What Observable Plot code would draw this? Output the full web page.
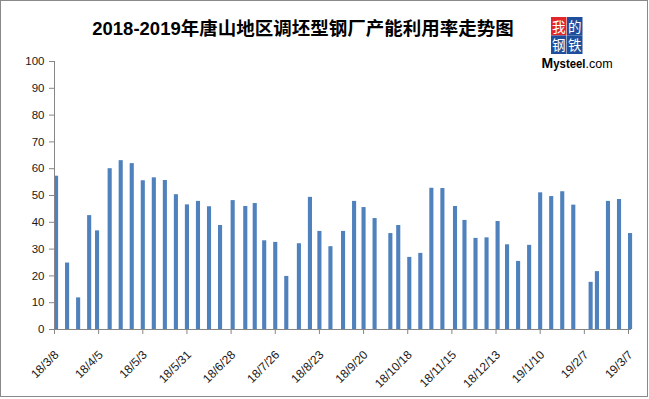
<!DOCTYPE html>
<html><head><meta charset="utf-8">
<script src="https://cdn.jsdelivr.net/npm/d3@7"></script>
<script src="https://cdn.jsdelivr.net/npm/@observablehq/plot@0.6"></script>
<style>
body{margin:0;background:#fff;}
#wrap{position:relative;width:649px;height:399px;overflow:hidden;background:#fff;}
#wrap > svg{position:absolute;left:0;top:0;}
#border{position:absolute;left:0;top:0;width:648px;height:397px;border:1px solid #898989;box-sizing:border-box;pointer-events:none}
</style>
</head><body>
<div id="wrap"><div id="border"></div></div>
<script>
const titleText = "2018-2019年唐山地区调坯型钢厂产能利用率走势图";
const dates = ["2018-03-08","2018-03-15","2018-03-22","2018-03-29","2018-04-03","2018-04-11","2018-04-18","2018-04-25","2018-05-02","2018-05-09","2018-05-16","2018-05-23","2018-05-30","2018-06-06","2018-06-13","2018-06-20","2018-06-28","2018-07-06","2018-07-12","2018-07-18","2018-07-25","2018-08-01","2018-08-09","2018-08-16","2018-08-22","2018-08-29","2018-09-06","2018-09-13","2018-09-19","2018-09-26","2018-10-06","2018-10-11","2018-10-18","2018-10-25","2018-11-01","2018-11-08","2018-11-16","2018-11-22","2018-11-29","2018-12-06","2018-12-13","2018-12-19","2018-12-26","2019-01-02","2019-01-09","2019-01-16","2019-01-23","2019-01-30","2019-02-10","2019-02-14","2019-02-21","2019-02-28","2019-03-07"];
const values = [57.2,24.8,11.8,42.5,36.8,60.0,63.0,61.9,55.5,56.6,55.6,50.3,46.5,47.8,45.8,38.8,48.1,45.9,47.0,33.1,32.5,19.8,32.0,49.3,36.6,30.9,36.6,47.8,45.5,41.4,35.8,38.8,26.9,28.4,52.7,52.6,45.9,40.7,34.0,34.2,40.3,31.6,25.4,31.4,51.0,49.6,51.4,46.4,17.6,21.6,47.8,48.5,35.8];
const tickDates = ["2018-03-08","2018-04-05","2018-05-03","2018-05-31","2018-06-28","2018-07-26","2018-08-23","2018-09-20","2018-10-18","2018-11-15","2018-12-13","2019-01-10","2019-02-07","2019-03-07"];
const tickLabels = ["18/3/8","18/4/5","18/5/3","18/5/31","18/6/28","18/7/26","18/8/23","18/9/20","18/10/18","18/11/15","18/12/13","19/1/10","19/2/7","19/3/7"];
const yTicks = [0,10,20,30,40,50,60,70,80,90,100];
const logoChars = ["我","的","钢","铁"];

const DAY = 864e5;
const data = dates.map((d,i)=>({date:new Date(d), value:values[i]}));
const ticks = tickDates.map((d,i)=>({date:new Date(d), label:tickLabels[i]}));
const x0 = new Date("2018-03-08"), x1 = new Date("2019-03-07");
const axisColor = "#868686";
const textColor = "#1a1a1a";

const chart = Plot.plot({
  width:649, height:399,
  marginLeft:54, marginRight:21, marginTop:61, marginBottom:70,
  style:{fontFamily:"'Liberation Sans', Arial, sans-serif", fontSize:"11.5px", color:textColor, background:"transparent"},
  x:{type:"utc", domain:[x0,x1], axis:null},
  y:{type:"linear", domain:[0,100], axis:null},
  marks:[
    Plot.rect(data, {x1:"date", x2:d=>new Date(+d.date + 2.6*DAY), y1:0, y2:"value", fill:"#4F81BD"}),
    Plot.ruleX([x0], {y1:0, y2:100, stroke:axisColor}),
    Plot.ruleY([0], {x1:x0, x2:new Date(+x1 + 2*DAY), stroke:axisColor}),
    Plot.axisY(yTicks, {tickSize:5, tickPadding:5, stroke:axisColor, fill:textColor, label:null, fontSize:11.5}),
    Plot.ruleX(ticks, {x:"date", y1:0, y2:0, insetBottom:-5, stroke:axisColor}),
    Plot.text(ticks, {x:"date", y:0, text:"label", rotate:-45, textAnchor:"end", lineAnchor:"bottom", dx:5, dy:26, fill:textColor, fontSize:12})
  ]
});
document.getElementById("wrap").appendChild(chart);

// Title and logo overlay
const ns = "http://www.w3.org/2000/svg";
const ov = document.createElementNS(ns, "svg");
ov.setAttribute("width", 649); ov.setAttribute("height", 399);
ov.style.position = "absolute"; ov.style.left = "0"; ov.style.top = "0";
function el(tag, attrs, txt){ const e = document.createElementNS(ns, tag); for (const k in attrs) e.setAttribute(k, attrs[k]); if (txt!=null) e.textContent = txt; ov.appendChild(e); return e; }
el("text", {x:303, y:35, "text-anchor":"middle", "font-family":"'Liberation Sans','Noto Sans CJK SC',sans-serif", "font-weight":"bold", "font-size":"18.5px", fill:"#000"}, titleText);
const cells = [[551,17,"#e3262c"],[567,17,"#1f4f9c"],[551,35.5,"#1f4f9c"],[567,35.5,"#1f4f9c"]];
cells.forEach((c,i)=>{
  el("rect", {x:c[0], y:c[1], width:15.5, height:18.5, fill:c[2]});
  el("text", {x:c[0]+7.75, y:c[1]+14.5, "text-anchor":"middle", "font-family":"'Noto Sans CJK SC',sans-serif", "font-size":"13.5px", fill:"#fff"}, logoChars[i]);
});
el("text", {x:541.5, y:68, "font-family":"'Liberation Sans',sans-serif", "font-size":"14px", "font-weight":"bold", fill:"#000"}, "M");
el("text", {transform:"translate(553.3,68) scale(0.84,1)", "font-family":"'Liberation Sans',sans-serif", "font-size":"13.5px", "font-weight":"bold", fill:"#000"}, "ysteel");
el("text", {x:585.5, y:68, "font-family":"'Liberation Sans',sans-serif", "font-size":"12.5px", fill:"#000"}, ".com");
document.getElementById("wrap").appendChild(ov);
</script>
</body></html>
